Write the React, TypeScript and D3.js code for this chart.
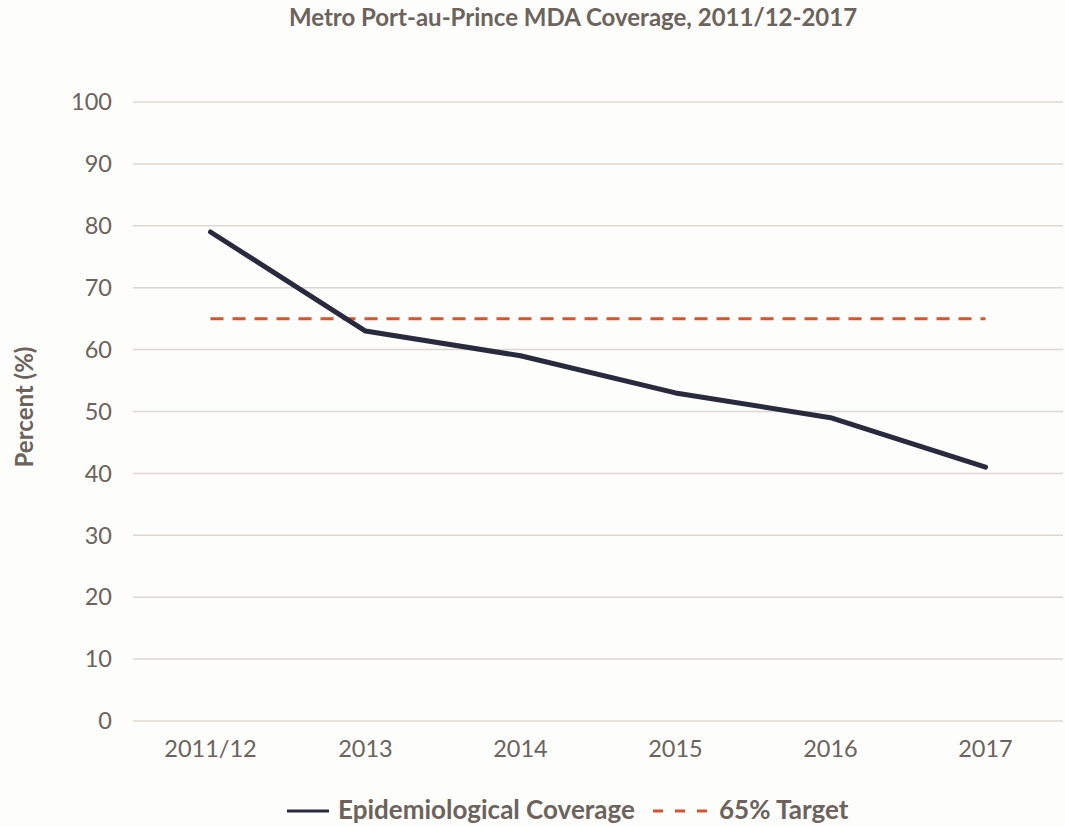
import React from 'react'
import { scaleBand, scaleLinear, line } from 'd3'

const years = ['2011/12', '2013', '2014', '2015', '2016', '2017']
const coverage = [79, 63, 59, 53, 49, 41]
const target = [65, 65, 65, 65, 65, 65]
const yTicks = [0, 10, 20, 30, 40, 50, 60, 70, 80, 90, 100]

const W = 1065
const H = 826
const left = 133, right = 1063, top = 102, bottom = 721
const textColor = '#6b635c'
const font = 'Lato, "Noto Sans", sans-serif'

export default function App() {
  const x = scaleBand().domain(years).range([left, right])
  const y = scaleLinear().domain([0, 100]).range([bottom, top])
  const cx = (d: string) => (x(d) as number) + x.bandwidth() / 2

  const path = line<number>().x((_, i) => cx(years[i])).y(d => y(d))

  return (
    <svg width={W} height={H} style={{ position: 'absolute', left: 0, top: 0, background: '#fdfdfb' }}>
      <rect width={W} height={H} fill="#fdfdfb" />
      <text x={573} y={26} textAnchor="middle" fontFamily={font} fontWeight={700}
        fontSize={24} fill={textColor}>Metro Port-au-Prince MDA Coverage, 2011/12-2017</text>

      {yTicks.map(t => (
        <g key={t}>
          <line x1={left} x2={right} y1={y(t)} y2={y(t)} stroke="#dcd7d2" strokeWidth={1.5} />
          <text x={112} y={y(t)} dy="0.35em" textAnchor="end" fontFamily={font}
            fontSize={23.5} fill={textColor}>{t}</text>
        </g>
      ))}

      {years.map(d => (
        <text key={d} x={cx(d)} y={757} textAnchor="middle" fontFamily={font}
          fontSize={23.5} fill={textColor}>{d}</text>
      ))}

      <text transform={`translate(33,407) rotate(-90)`} textAnchor="middle"
        fontFamily={font} fontWeight={700} fontSize={24} fill={textColor}>Percent (%)</text>

      <path d={path(target) || ''} fill="none" stroke="#d9532b" strokeWidth={3}
        strokeDasharray="13 9" />
      <path d={path(coverage) || ''} fill="none" stroke="#2a2a3e" strokeWidth={5}
        strokeLinejoin="round" strokeLinecap="round" />

      <g fontFamily={font} fontSize={26} fontWeight={700} fill={textColor}>
        <line x1={287} x2={329} y1={811} y2={811} stroke="#2a2a3e" strokeWidth={3} />
        <text x={338} y={819}>Epidemiological Coverage</text>
        <line x1={653} x2={707} y1={811} y2={811} stroke="#d9532b" strokeWidth={3}
          strokeDasharray="10 12" />
        <text x={719} y={819}>65% Target</text>
      </g>
    </svg>
  )
}
